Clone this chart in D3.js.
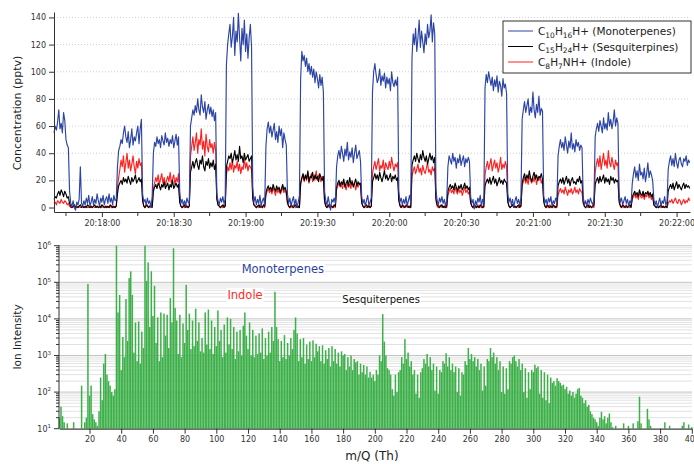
<!DOCTYPE html>
<html>
<head>
<meta charset="utf-8">
<script src="https://cdn.jsdelivr.net/npm/d3@7"></script>
<style>
  body { margin: 0; background: #fff; }
  svg { font-family: "DejaVu Sans", sans-serif; }
</style>
</head>
<body>
<svg id="chart"></svg>
<script>
const width = 694;
const height = 464;

// Time series: one sample every 0.5 s from 20:17:40
const startTime = "20:17:40";
const endTime = "20:22:05.600";
const stepSeconds = 0.5;

const monoterpenes = [
  55,60,57,63,72,58,62,55,70,64,50,46,44,
  12,3,1,5,0,-2,4,2,6,30,3,1,5,2,7,3,9,1,4,8,2,6,3,10,5,1,7,4,9,2,6,8,3,10,4,7,2,9,5,6,
  30,
  42,45,50,47,55,60,52,48,56,44,50,58,46,52,49,55,60,47,58,65,
  10,4,6,2,7,3,5,0,8,
  40,48,45,52,47,50,44,53,49,46,55,48,51,45,50,47,53,44,49,54,46,52,
  12,3,6,2,5,1,7,4,3,
  60,66,72,68,75,70,80,72,68,83,74,70,78,65,72,76,69,74,67,72,64,70,
  10,5,2,7,4,8,3,6,
  105,120,128,135,118,126,140,112,130,122,143,125,108,132,120,138,115,128,110,125,135,118,
  15,4,8,2,6,3,9,1,5,7,2,
  45,58,63,55,60,52,57,62,50,56,48,60,53,58,44,55,50,46,
  10,3,7,1,5,8,2,6,0,4,9,
  95,115,108,112,104,110,100,106,98,104,96,102,92,100,95,88,98,90,96,85,
  12,5,2,8,3,-2,6,4,7,3,
  30,38,42,36,45,40,34,43,38,48,35,41,37,44,33,40,46,36,39,42,34,
  8,3,6,1,5,9,2,4,7,
  85,100,106,98,92,95,102,90,97,93,99,88,96,91,95,86,100,92,89,94,90,96,
  12,4,7,2,6,3,8,1,5,9,3,
  110,128,120,132,115,125,138,118,130,122,114,128,120,135,125,130,142,122,136,128,
  14,5,2,7,4,8,3,6,1,5,
  30,38,35,32,40,34,37,29,36,33,39,31,35,38,30,36,33,37,34,
  8,3,6,-1,5,2,7,4,9,1,6,3,
  88,98,92,100,95,90,96,86,94,89,97,85,93,90,82,95,88,91,84,
  10,4,7,2,6,0,5,8,3,6,2,7,
  65,72,78,70,75,80,68,74,70,85,72,66,76,70,82,68,73,71,
  9,3,6,2,7,4,8,1,5,3,7,4,
  38,45,50,44,48,42,52,46,40,49,44,55,43,47,41,50,45,48,42,46,44,
  8,2,5,1,6,3,7,4,2,6,
  52,58,62,56,64,60,55,66,58,62,57,70,60,65,58,63,72,60,66,62,
  10,4,7,2,5,8,3,6,1,5,3,
  18,25,30,22,27,20,32,24,26,21,29,19,25,33,22,27,24,20,
  6,2,5,0,4,7,1,5,3,8,2,4,
  28,34,38,31,36,30,40,33,29,35,37,32,30,36,34,38,31,35,33
];

const sesquiterpenes = [
  6,8,7,10,12,9,13,11,8,12,10,7,8,
  3,1,0,1,2,0,1,0,1,2,0,1,0,1,0,2,1,0,1,0,1,2,0,1,0,1,0,2,1,0,1,0,1,0,2,1,0,1,0,1,
  10,
  16,18,20,17,22,19,21,18,23,20,17,22,19,21,24,18,20,22,19,21,
  5,1,0,2,1,0,1,2,0,
  12,15,17,14,18,16,13,17,15,19,14,16,18,13,17,15,20,14,16,18,15,17,
  4,1,0,1,2,0,1,0,1,
  26,30,34,29,33,36,31,28,35,32,38,30,27,34,31,36,29,33,30,35,28,32,
  6,2,1,0,1,2,0,1,
  30,34,38,36,40,33,37,42,35,39,34,45,36,38,33,40,35,37,39,34,36,38,
  7,2,1,0,1,2,0,1,0,2,1,
  11,14,16,13,15,12,17,14,12,16,13,15,11,14,17,13,15,12,
  4,1,0,2,1,0,1,2,0,1,0,
  18,22,25,20,24,21,27,19,23,22,26,20,24,21,23,19,25,22,20,23,
  5,1,0,2,1,0,1,0,2,1,
  15,18,20,16,19,17,21,15,18,20,16,22,17,19,15,18,21,16,19,17,18,
  4,1,0,1,2,0,1,0,1,
  19,22,25,21,24,20,26,22,19,23,27,21,24,20,22,25,19,23,21,24,20,22,
  5,1,0,2,1,0,1,2,0,1,0,
  31,35,38,34,40,36,33,39,35,42,37,34,38,32,36,40,35,38,33,37,
  7,2,1,0,1,2,0,1,0,1,
  12,15,17,14,16,13,18,15,12,16,14,17,13,15,18,14,16,13,15,
  4,1,0,2,1,0,1,0,2,1,0,1,
  16,19,21,18,22,17,20,23,18,21,16,19,22,18,20,17,21,19,18,
  4,1,0,1,2,0,1,0,1,2,0,1,
  18,22,25,20,24,21,27,22,19,23,26,21,24,20,23,22,25,21,
  5,1,0,2,1,0,1,0,2,1,0,1,
  16,19,21,18,22,17,20,23,18,21,16,20,22,18,19,17,21,19,23,18,20,
  4,1,0,1,2,0,1,0,1,2,
  17,20,22,18,23,19,21,24,18,22,19,21,17,23,20,22,18,21,19,20,
  4,1,0,2,1,0,1,0,1,2,0,
  8,10,12,9,11,8,13,10,9,12,8,11,10,12,9,11,8,10,
  2,1,0,1,0,1,2,0,1,0,1,0,
  12,15,17,14,18,13,16,19,14,17,15,13,16,18,14,17,15,16,14
];

const indole = [
  3,4,2,5,4,3,6,4,3,5,4,2,3,
  1,0,0,1,0,1,0,0,1,0,0,1,0,0,1,0,0,1,0,0,1,0,0,1,0,0,1,0,1,0,0,1,0,0,1,0,1,0,0,1,
  15,
  22,28,35,30,38,26,33,40,29,35,27,32,38,30,25,34,29,36,31,33,
  6,1,0,1,2,0,1,0,1,
  14,18,22,19,24,17,21,25,18,22,16,20,23,19,26,18,21,24,17,22,19,25,
  4,1,0,1,0,2,1,0,1,
  38,45,52,42,48,55,40,50,46,58,43,49,38,54,45,41,50,44,47,40,48,42,
  8,2,1,0,1,0,2,1,
  24,30,27,33,28,35,26,31,29,34,27,32,25,30,28,36,29,33,27,31,30,28,
  6,2,1,0,1,0,2,1,0,1,0,
  9,12,14,11,13,10,15,12,9,14,11,13,10,12,15,11,13,10,
  3,1,0,1,0,2,1,0,1,0,1,
  17,21,24,19,23,20,26,18,22,25,19,23,21,27,20,24,22,19,23,21,
  4,1,0,1,0,2,1,0,1,0,
  13,16,18,15,17,14,19,16,13,18,15,17,14,20,16,18,13,17,15,18,16,
  3,1,0,1,0,1,2,0,1,
  25,30,34,28,32,36,27,31,29,35,26,33,30,28,34,29,37,31,27,32,30,33,
  6,2,0,1,0,1,2,0,1,0,1,
  23,27,30,25,28,32,26,29,24,31,27,25,29,33,26,28,24,30,27,29,
  5,1,0,1,2,0,1,0,1,0,
  9,12,14,11,13,10,15,12,10,14,11,13,9,12,15,11,13,10,12,
  3,1,0,1,0,1,2,0,1,0,1,0,
  24,30,34,28,32,36,27,31,35,29,33,26,30,37,28,32,29,34,30,
  6,1,0,1,2,0,1,0,1,0,2,1,
  16,19,22,18,21,17,23,20,18,22,19,24,17,21,20,23,18,21,
  4,1,0,1,0,2,1,0,1,0,1,0,
  9,12,14,11,13,10,15,12,9,13,11,14,10,12,15,11,13,10,14,12,11,
  3,1,0,1,0,2,1,0,1,0,
  26,32,36,30,38,28,34,40,31,35,29,42,33,30,37,32,28,35,31,33,
  6,2,0,1,0,1,2,0,1,0,1,
  6,8,10,7,9,6,11,8,7,10,6,9,8,11,7,9,6,8,
  2,1,0,1,0,1,0,1,0,0,1,0,
  3,5,4,6,3,5,7,4,3,6,5,2,4,6,3,5,4,7,5
];

const legendLabels = [
  "C_{10}H_{16}H+ (Monoterpenes)",
  "C_{15}H_{24}H+ (Sesquiterpines)",
  "C_{8}H_{7}NH+ (Indole)"
];
const concTicks = [0, 20, 40, 60, 80, 100, 120, 140];
const timeTicks = ["20:18:00", "20:18:30", "20:19:00", "20:19:30", "20:20:00",
                   "20:20:30", "20:21:00", "20:21:30", "20:22:00"];

// Mass spectrum: ion intensity for m/Q = 1..400
const massStart = 1;
const ionIntensity = [
  20,40,22,15,8,14,5,5,6,15,
  5,6,5,8,150,6,15,20,90000,80,
  150,25,18,15,12,30,250,60,600,1100,
  300,200,150,100,80,120,1000000,15000,45000,400,
  3200,900,35000,2500,130000,200000,45000,1200,8000,700,
  8500,600,4500,1600,1000000,110000,350000,6000,200000,12000,
  80000,2200,11000,700,15000,900,14000,3500,13000,1600,
  37000,8000,850000,20000,9000,1100,13000,900,7500,2200,
  85000,5000,14000,1500,9000,1800,19000,2500,8000,1300,
  3000,1200,15000,2000,18000,1500,9000,1100,6000,1800,
  17000,2500,5000,900,7000,1200,11000,2000,10000,1500,
  6000,800,4500,1300,5000,1000,6500,15000,3500,1500,
  8000,1000,5000,900,3500,1100,4000,1200,5500,800,
  3000,1000,4500,1200,6000,2500,55000,6000,2800,700,
  2500,900,3600,800,2200,1000,3000,1500,5000,11000,
  4000,700,2800,900,3000,600,2000,800,2400,700,
  2600,900,2100,1300,1800,700,1900,600,1400,800,
  1600,500,1800,700,1500,600,1200,500,1300,1000,
  1100,400,900,500,1000,400,800,650,700,300,
  600,350,550,300,500,250,360,250,300,200,
  400,300,1000,700,13500,2400,1000,450,400,300,
  120,80,300,100,350,400,900,600,2800,800,
  1200,500,700,300,400,90,300,70,350,450,
  800,600,1100,500,900,400,600,110,500,90,
  400,350,700,600,1150,500,900,400,600,350,
  500,100,450,80,350,300,700,550,1600,800,
  1100,700,900,500,800,400,600,110,500,150,
  800,700,1600,900,1200,600,900,400,700,100,
  500,90,450,120,700,600,900,1000,700,500,
  800,400,600,100,450,70,350,120,400,350,
  560,450,500,90,400,70,350,60,300,50,
  250,180,200,150,240,200,180,150,160,120,
  140,90,110,80,100,70,90,120,130,80,
  70,50,60,40,45,30,25,20,18,15,
  12,20,29,18,22,14,20,26,15,11,
  5,12,5,5,5,5,14,5,5,12,
  5,5,14,5,5,16,75,14,5,5,
  5,35,18,12,5,5,5,5,5,5,
  5,5,15,5,5,12,5,5,5,5,
  5,5,5,12,15,5,5,13,5,11
];
const massTicks = [20, 40, 60, 80, 100, 120, 140, 160, 180, 200,
                   220, 240, 260, 280, 300, 320, 340, 360, 380, 400];
const intensityExponents = [1, 2, 3, 4, 5, 6];
const annotations = [
  { text: "Monoterpenes", mass: 116, level: 1.75e5, color: "#2b44a6", size: 11.5 },
  { text: "Indole", mass: 107, level: 3.5e4, color: "#ff2a2a", size: 11.5 },
  { text: "Sesquiterpenes", mass: 179.5, level: 2.8e4, color: "#111", size: 10 }
];

const blue = "#2b44a6", red = "#ff2020", black = "#000";
const axisColor = "#333";

const svg = d3.select("#chart").attr("width", width).attr("height", height);

// ---------- top panel ----------
const parseTime = d3.timeParse("%H:%M:%S");
const parseTimeMs = d3.timeParse("%H:%M:%S.%L");
const t0 = parseTime(startTime);
const timeAt = (i) => new Date(t0.getTime() + i * stepSeconds * 1000);

const xTop = d3.scaleTime().domain([t0, parseTimeMs(endTime)]).range([54, 690]);
const yTop = d3.scaleLinear().domain([-3.3, 144]).range([212, 12]);

const topG = svg.append("g");

topG.selectAll(".grid")
  .data(concTicks.filter((d) => d > 0))
  .enter()
  .append("line")
  .attr("x1", 54).attr("x2", 690)
  .attr("y1", (d) => yTop(d)).attr("y2", (d) => yTop(d))
  .attr("stroke", "#cfcfcf")
  .attr("stroke-dasharray", "1,2");

const line = d3.line()
  .x((d, i) => xTop(timeAt(i)))
  .y((d) => yTop(d));

[[indole, red], [sesquiterpenes, black], [monoterpenes, blue]].forEach(([vals, c]) => {
  topG.append("path")
    .datum(vals)
    .attr("fill", "none")
    .attr("stroke", c)
    .attr("stroke-width", 1.15)
    .attr("stroke-linejoin", "round")
    .attr("d", line);
});

const yAxisTop = topG.append("g")
  .attr("transform", "translate(54,0)")
  .call(d3.axisLeft(yTop).tickValues(concTicks).tickSize(5).tickSizeOuter(0).tickPadding(3));

const majorTimes = timeTicks.map(parseTime);
const xAxisTop = topG.append("g")
  .attr("transform", "translate(0,212)")
  .call(d3.axisBottom(xTop).tickValues(majorTimes).tickFormat(d3.timeFormat("%H:%M:%S"))
    .tickSize(5).tickSizeOuter(0).tickPadding(3));

// minor ticks every 15 s
const minorTimes = d3.timeSecond.every(15).range(xTop.domain()[0], xTop.domain()[1])
  .filter((d) => d.getSeconds() % 30 !== 0);
topG.selectAll(".minor")
  .data(minorTimes)
  .enter()
  .append("line")
  .attr("x1", (d) => xTop(d)).attr("x2", (d) => xTop(d))
  .attr("y1", 212).attr("y2", 216)
  .attr("stroke", axisColor);

topG.append("text")
  .attr("transform", "translate(17,113) rotate(-90)")
  .attr("text-anchor", "middle")
  .attr("dy", "0.35em")
  .style("font-size", "11px")
  .attr("fill", "#222")
  .text("Concentration (pptv)");

// legend
const legend = topG.append("g");
legend.append("rect")
  .attr("x", 503).attr("y", 21).attr("width", 188).attr("height", 52)
  .attr("fill", "#fff").attr("stroke", "#333").attr("stroke-width", 1);

const legendColors = [blue, black, red];
legendLabels.forEach((label, k) => {
  const ly = 31 + k * 15.5;
  legend.append("line")
    .attr("x1", 508).attr("x2", 533).attr("y1", ly).attr("y2", ly)
    .attr("stroke", legendColors[k]).attr("stroke-width", 1);
  const txt = legend.append("text")
    .attr("x", 538).attr("y", ly + 4)
    .style("font-size", "10.5px")
    .attr("fill", "#222");
  let shifted = false;
  label.split(/(_\{[^}]*\})/).filter((s) => s.length).forEach((part) => {
    const sub = part.startsWith("_{");
    const ts = txt.append("tspan").text(sub ? part.slice(2, -1) : part);
    if (sub) {
      ts.style("font-size", "7.5px").attr("dy", shifted ? 0 : 2.5);
      shifted = true;
    } else if (shifted) {
      ts.attr("dy", -2.5);
      shifted = false;
    }
  });
});

// ---------- bottom panel ----------
const xBot = d3.scaleLinear().domain([1, 400]).range([59.4, 691.8]);
const yBot = d3.scaleLog().domain([10, 1e6]).range([428.7, 245.7]);

const bot = svg.append("g");

// log gridlines
const gridVals = [];
intensityExponents.forEach((e) => {
  gridVals.push({ v: Math.pow(10, e), major: true });
  if (e < 6) for (let k = 2; k <= 9; k++) gridVals.push({ v: k * Math.pow(10, e), major: false });
});
bot.selectAll(".lgrid")
  .data(gridVals)
  .enter()
  .append("line")
  .attr("x1", 59).attr("x2", 692)
  .attr("y1", (d) => yBot(d.v)).attr("y2", (d) => yBot(d.v))
  .attr("stroke", (d) => (d.major ? "#c4c4c4" : "#e2e2e2"))
  .attr("stroke-width", 1);

// spectrum sticks
bot.selectAll(".stick")
  .data(ionIntensity.map((v, i) => ({ m: massStart + i, v })).filter((d) => d.v > 10))
  .enter()
  .append("rect")
  .attr("x", (d) => xBot(d.m) - 0.75)
  .attr("width", 1.5)
  .attr("y", (d) => yBot(d.v))
  .attr("height", (d) => 428.7 - yBot(d.v))
  .attr("fill", "#3db049");

// annotations with white backgrounds
annotations.forEach((a) => {
  const t = bot.append("text")
    .attr("x", xBot(a.mass)).attr("y", yBot(a.level))
    .style("font-size", a.size + "px")
    .attr("fill", a.color)
    .text(a.text);
  const bb = t.node().getBBox();
  bot.insert("rect", () => t.node())
    .attr("x", bb.x - 1).attr("y", bb.y)
    .attr("width", bb.width + 2).attr("height", bb.height)
    .attr("fill", "#fff");
});

// axes
const xAxisBot = bot.append("g")
  .attr("transform", "translate(0,428.7)")
  .call(d3.axisBottom(xBot).tickValues(massTicks).tickSize(5).tickSizeOuter(0).tickPadding(3));

bot.append("line")
  .attr("x1", 59).attr("x2", 59).attr("y1", 245).attr("y2", 428.7)
  .attr("stroke", axisColor);

bot.selectAll(".ytick")
  .data(gridVals)
  .enter()
  .append("line")
  .attr("x1", (d) => (d.major ? 54 : 56)).attr("x2", 59)
  .attr("y1", (d) => yBot(d.v)).attr("y2", (d) => yBot(d.v))
  .attr("stroke", axisColor);

const yLab = bot.selectAll(".ylab")
  .data(intensityExponents)
  .enter()
  .append("text")
  .attr("x", 51)
  .attr("y", (d) => yBot(Math.pow(10, d)))
  .attr("dy", "0.35em")
  .attr("text-anchor", "end")
  .style("font-size", "8px")
  .attr("fill", "#333");
yLab.append("tspan").text("10");
yLab.append("tspan").attr("dy", -3.5).style("font-size", "5.5px").text((d) => d);

bot.append("text")
  .attr("transform", "translate(17,337) rotate(-90)")
  .attr("text-anchor", "middle")
  .attr("dy", "0.35em")
  .style("font-size", "10.5px")
  .attr("fill", "#222")
  .text("Ion Intensity");

bot.append("text")
  .attr("x", 372).attr("y", 460)
  .attr("text-anchor", "middle")
  .style("font-size", "12px")
  .attr("fill", "#222")
  .text("m/Q (Th)");

// axis styling
[yAxisTop, xAxisTop, xAxisBot].forEach((g) => {
  g.attr("font-family", null).attr("font-size", null);
  g.selectAll("path, line").attr("stroke", axisColor);
  g.selectAll("text").style("font-size", "8px").attr("fill", "#333");
});
</script>
</body>
</html>
